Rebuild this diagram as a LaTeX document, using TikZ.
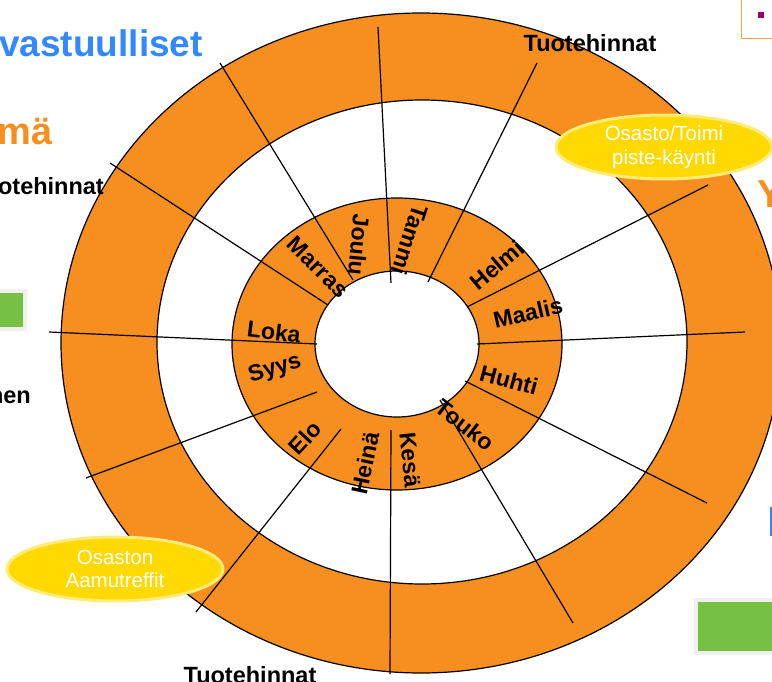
\documentclass[tikz,border=0pt]{standalone}
\usepackage{fontspec}
\setmainfont{Liberation Sans}
\usetikzlibrary{shapes.geometric}
\definecolor{ringorange}{RGB}{246,142,32}
\definecolor{bubbleyellow}{RGB}{255,217,0}
\definecolor{bubbleedge}{RGB}{255,236,120}
\definecolor{titleblue}{RGB}{51,136,255}
\definecolor{bulletpurple}{RGB}{153,0,102}
\definecolor{boxgreen}{RGB}{118,192,67}
\definecolor{boxgray}{RGB}{240,240,240}

\begin{document}
\begin{tikzpicture}[x=1pt, y=-1pt,
  ring/.style={draw=black, line width=1.2pt, fill=ringorange},
  hole/.style={draw=black, line width=1.2pt, fill=white},
  spoke/.style={draw=black, line width=1.2pt},
  month/.style={font=\fontsize{23}{25}\selectfont\bfseries, inner sep=0pt},
  heading/.style={font=\fontsize{23.5}{26}\selectfont\bfseries, inner sep=0pt},
  bubble/.style={ellipse, fill=bubbleyellow, draw=bubbleedge, line width=3pt,
    minimum width=216, minimum height=64, inner sep=0pt, align=center,
    text=white, font=\fontsize{20.5}{23.5}\selectfont}]
  \useasboundingbox (0,0) rectangle (772,682);

  % Rings
  \draw[ring] (421,343) ellipse [x radius=360, y radius=330];
  \draw[hole] (422,342) ellipse [x radius=265, y radius=242];
  \draw[ring] (397,344) ellipse [x radius=165, y radius=146];
  \draw[hole] (397,344) ellipse [x radius=82, y radius=73];

  % Spokes between the months
  \foreach \xa/\ya/\xb/\yb in {353/280/220/63, 391/283/378/27, 428/282/537/63,
      467/307/708/185, 477/344/745/332, 465/381/707/503, 440/400/573/623,
      391/430/390/674, 341/429/196/612, 317/392/86/478, 317/344/49/332,
      328/305/110/163} {
    \draw[spoke] (\xa,\ya) -- (\xb,\yb);
  }

  % Months
  \foreach \x/\y/\r/\m [count=\i] in {359/245/-95/Joulu, 410/240/-108/Tammi,
      318/267/-45/Marras, 497/265/40/Helmi, 528/313/13/Maalis,
      509/380/-15/Huhti, 465/425/-38/Touko, 410/460/-84/Kesä,
      365/463/78/Heinä, 305/438/47/Elo, 275/369/17/Syys, 274/332/-7/Loka} {
    \node[month, rotate=\r] (kk\i) at (\x,\y) {\m};
  }

  % Bubbles
  \node[bubble] (bubbleA) at (664,147) {Osasto/Toimi\\piste-käynti};
  \node[bubble] (bubbleB) at (115,569) {Osaston\\Aamutreffit};

  % Labels round the wheel
  \node[heading, anchor=base] (tuoteTop) at (590,52) {Tuotehinnat};
  \node[heading, anchor=base] (tuoteBottom) at (250,683) {Tuotehinnat};
  \node[heading, anchor=base east] (tuoteLeft) at (104,195) {Tuotehinnat};
  \node[heading, anchor=base east] (henText) at (31,403) {hen};

  % Slide leftovers
  \node[font=\fontsize{37}{40}\selectfont\bfseries, text=titleblue, anchor=east, inner sep=0pt] (vastuu) at (203,43) {vastuulliset};
  \node[font=\fontsize{38}{40}\selectfont\bfseries, text=ringorange, anchor=base east, inner sep=0pt] (maText) at (53,145) {mä};
  \node[font=\fontsize{39}{40}\selectfont\bfseries, text=ringorange, anchor=base west, inner sep=0pt] (yText) at (757,208) {Y};
  \draw[draw=ringorange!80, line width=1pt] (741,-10) rectangle (790,39);
  \fill[bulletpurple] (758,12) rectangle (764,18);
  \draw[draw=boxgray, line width=4pt, fill=boxgreen] (-10,291) rectangle (25,329);
  \draw[draw=boxgray, line width=4pt, fill=boxgreen] (696,600) rectangle (790,653);
  \fill[titleblue] (770,507) rectangle (774,536);
\end{tikzpicture}
\end{document}
